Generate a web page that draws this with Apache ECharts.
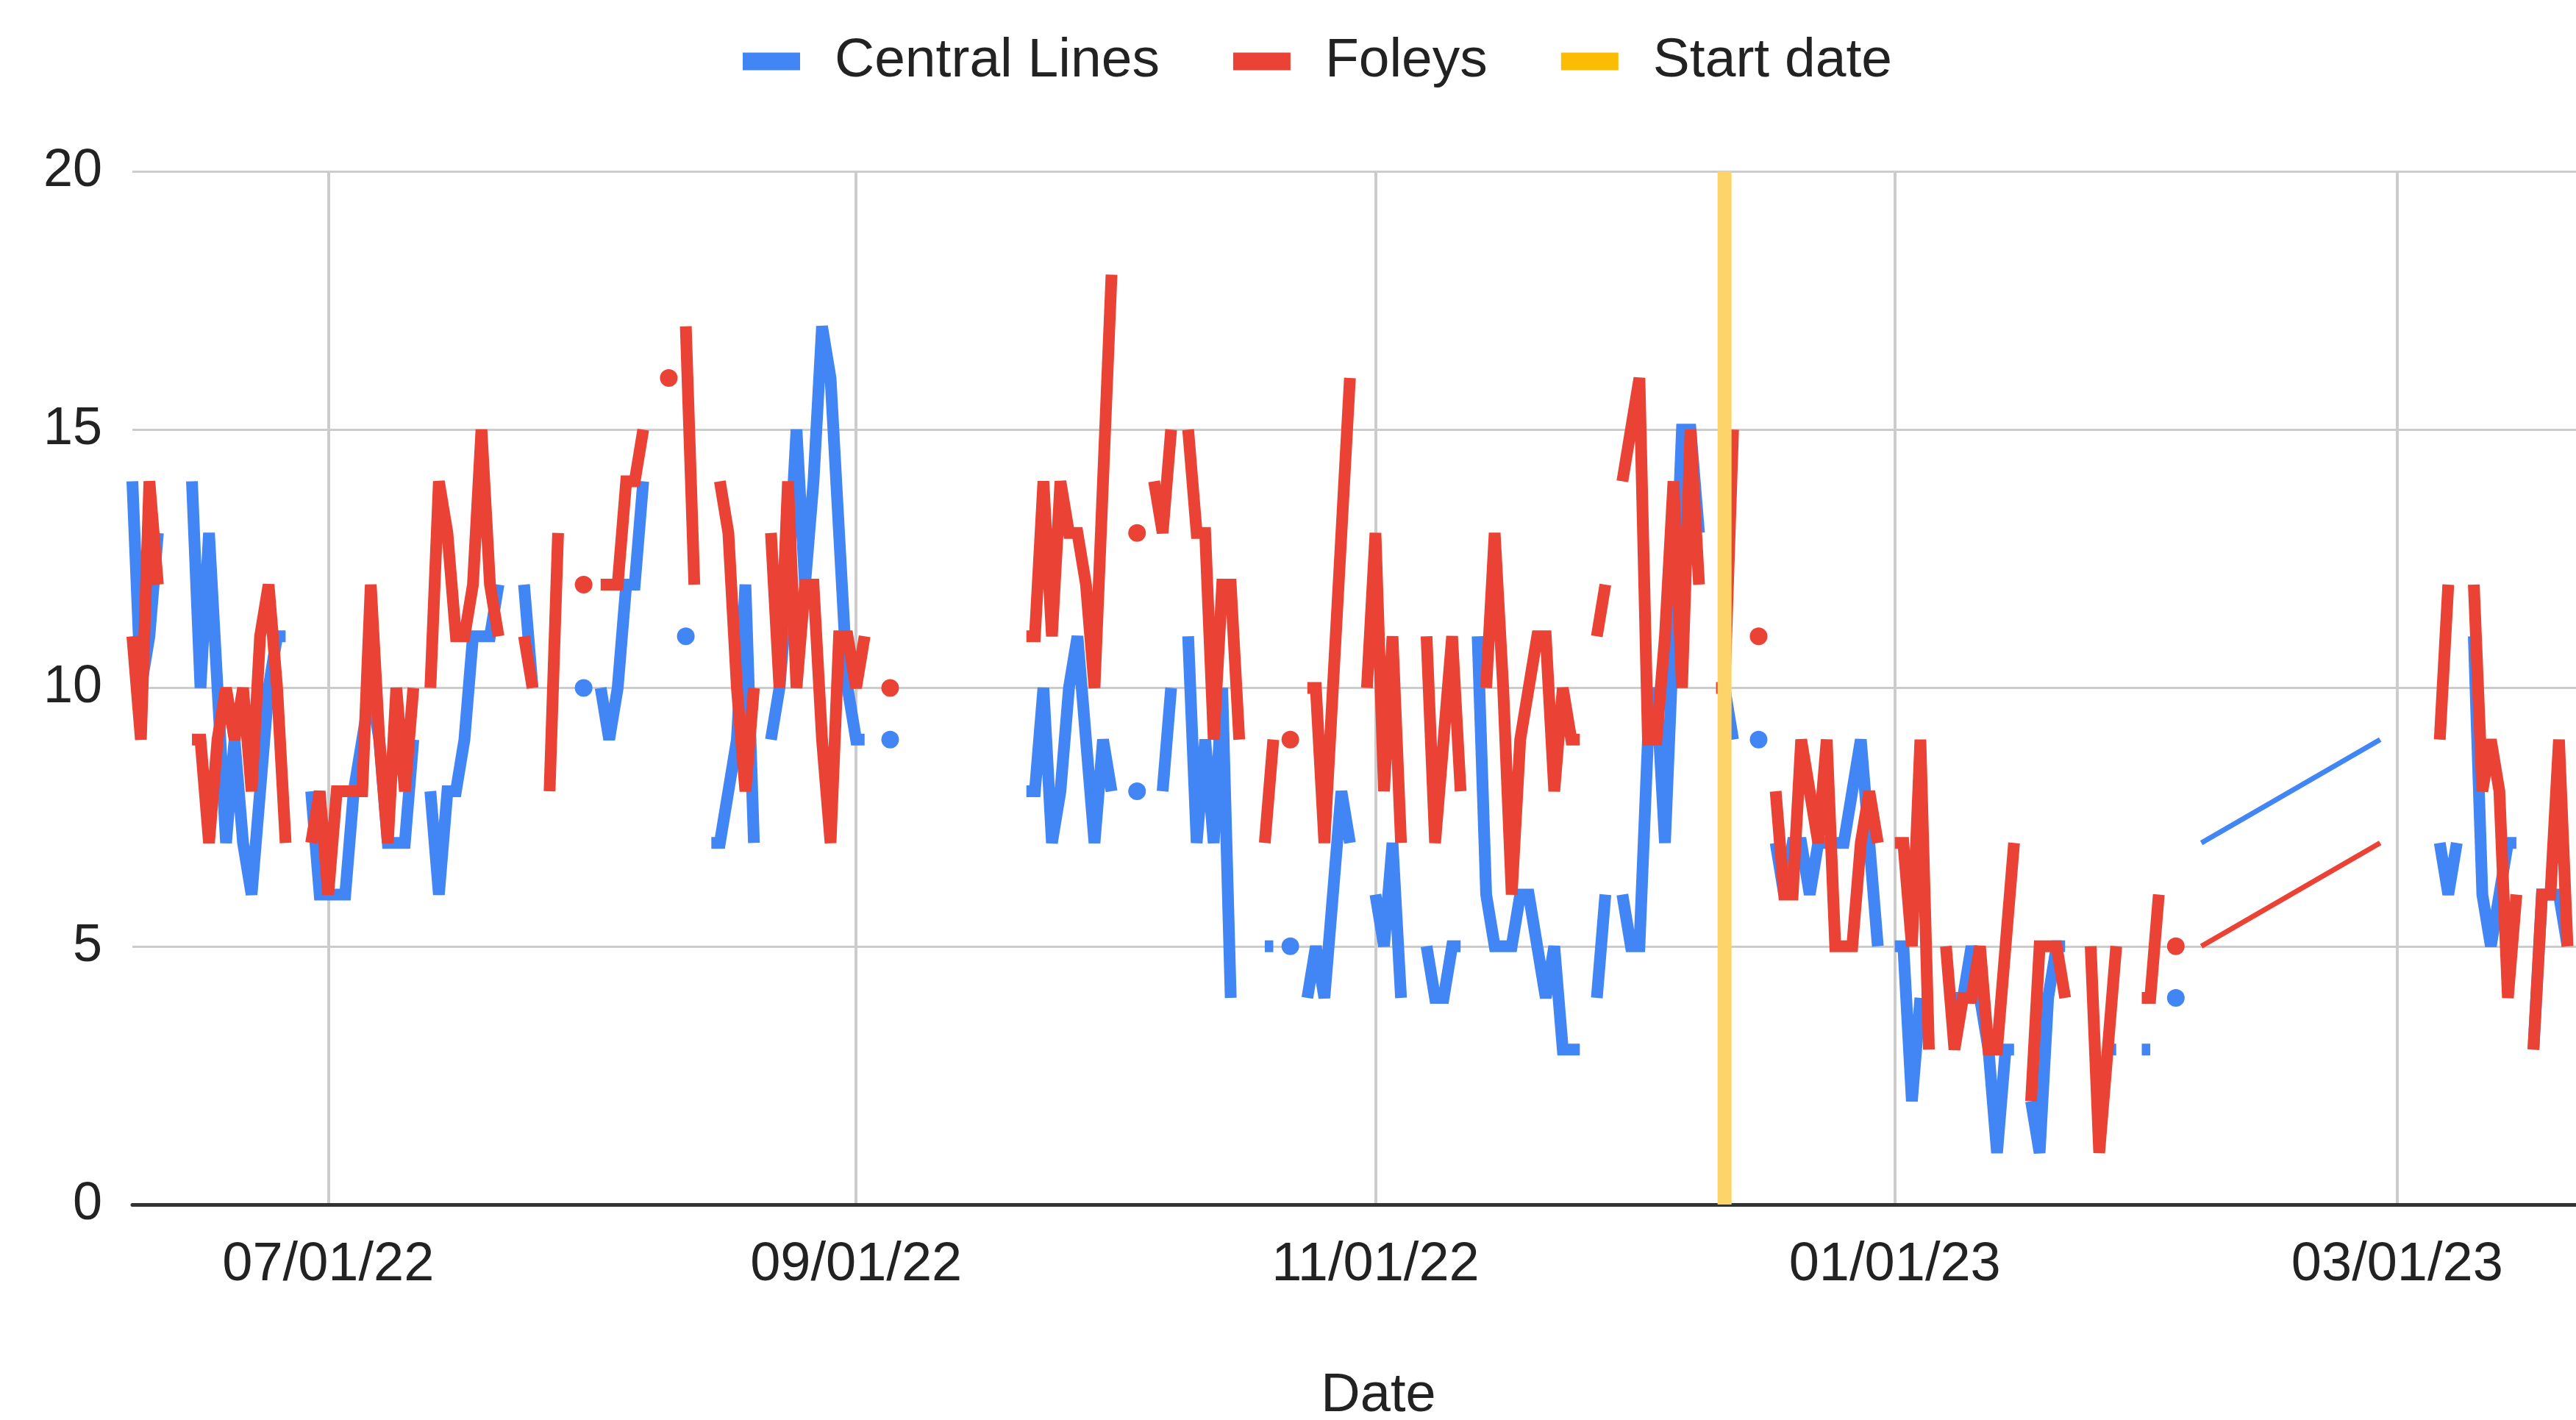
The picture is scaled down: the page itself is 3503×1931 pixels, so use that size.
<!DOCTYPE html>
<html>
<head>
<meta charset="utf-8">
<title>Central Lines and Foleys</title>
<script src="https://cdn.jsdelivr.net/npm/echarts@6/dist/echarts.min.js"></script>
<style>
  html, body { margin: 0; padding: 0; background: #fff; }
  #chart { width: 3503px; height: 1931px; }
</style>
</head>
<body>
<div id="chart"></div>
<script>
// one value per day from periodStart, null = nothing recorded that day
const periodStart = '2022-06-08';
const centralLines = [
  // Jun 8-30
  14, 10, 11, 13, null, null, null, 14, 10, 13, 10, 7, 9, 7, 6, 8, 10, 11, 11, null, null, 8, 6,
  // Jul
  6, 6, 6, 8, 9, 10, 9, 7, 7, 7, 9, null, 8, 6, 8, 8, 9, 11, 11, 11, 12, null, null, 12, 10, null, null, null, null, null, 10,
  // Aug
  null, 10, 9, 10, 12, 12, 14, null, null, null, null, 11, null, null, 7, 7, 8, 9, 12, 7, null, 9, 10, 12, 15, 12, 14, 17, 16, 13, 10,
  // Sep
  9, 9, null, null, 9, null, null, null, null, null, null, null, null, null, null, null, null, null, null, null,
  8, 8, 10, 7, 8, 10, 11, 9, 7, 9,
  // Oct
  8, null, null, 8, null, null, 8, 10, null, 11, 7, 9, 7, 10, 4, null, null, null, 5, 5, null, 5, null, 4, 5, 4, 6, 8, 7, null, null,
  // Nov
  6, 5, 7, 4, null, null, 5, 4, 4, 5, 5, null, 11, 6, 5, 5, 5, 6, 6, 5, 4, 5, 3, 3, 3, null, 4, 6, null, 6,
  // Dec
  5, 5, 9, 10, 7, 11, 15, 15, 13, null, null, 10, 9, null, null, 9, null, 7, 6, 7, 7, 6, 7, 7, 7, 7, 8, 9, 7, 5, null,
  // Jan
  5, 5, 2, 4, null, null, null, 4, 4, 5, 4, 3, 1, 3, 3, null, 2, 1, 4, 5, 5, null, null, null, null, 3, 3, null, null, 3, 3,
  // Feb 1-6
  null, null, 4, null, null, 7
];
const foleys = [
  // Jun 8-30
  11, 9, 14, 12, null, null, null, 9, 9, 7, 9, 10, 9, 10, 8, 11, 12, 10, 7, null, null, 7, 8,
  // Jul
  6, 8, 8, 8, 8, 12, 9, 7, 10, 8, 10, null, 10, 14, 13, 11, 11, 12, 15, 12, 11, null, null, 11, 10, null, 8, 13, null, null, 12,
  // Aug
  null, 12, 12, 12, 14, 14, 15, null, null, 16, null, 17, 12, null, null, 14, 13, 10, 8, 10, null, 13, 10, 14, 10, 12, 12, 9, 7, 11, 11,
  // Sep
  10, 11, null, null, 10, null, null, null, null, null, null, null, null, null, null, null, null, null, null, null,
  11, 11, 14, 11, 14, 13, 13, 12, 10, 14,
  // Oct
  18, null, null, 13, null, 14, 13, 15, null, 15, 13, 13, 9, 12, 12, 9, null, null, 7, 9, null, 9, null, 10, 10, 7, 10, 13, 16, null, 10,
  // Nov
  13, 8, 11, 7, null, null, 11, 7, 9, 11, 8, null, null, 10, 13, 10, 6, 9, 10, 11, 11, 8, 10, 9, 9, null, 11, 12, null, 14,
  // Dec
  15, 16, 9, 9, 11, 14, 10, 15, 12, null, 10, 10, 15, null, null, 11, null, 8, 6, 6, 9, 8, 7, 9, 5, 5, 5, 7, 8, 7, null,
  // Jan
  7, 7, 5, 9, 3, null, 5, 3, 4, 4, 5, 3, 3, 5, 7, null, 2, 5, 5, 5, 4, null, null, 5, 1, 3, 5, null, null, 4, 4,
  // Feb 1-6
  6, null, 5, null, null, 5
];

// no rows between Feb 6 and Feb 27, sheet picks up again here
const resumeDate = '2023-02-27';
const centralLinesResumed = [9, null, null, null, null, null, null, 7, 6, 7, null, 11, 6, 5, 6, 7, 7, null, 3, 6, 6, 6, 5];
const foleysResumed = [7, null, null, null, null, null, null, 9, 12, null, null, 12, 8, 9, 8, 4, 6, null, 3, 6, 6, 9, 5];

const startDate = '2022-12-12';
const startDateValues = [0, 20];

const tickDates = ['2022-07-01', '2022-09-01', '2022-11-01', '2023-01-01', '2023-03-01'];
const axisEnd = '2023-03-22';

const BLUE = '#4285F4';
const RED = '#EA4335';
const YELLOW = '#FBBC04';
const FONT = 'Liberation Sans, Arial, sans-serif';

function dayStamp(iso, offset) {
  const p = iso.split('-').map(Number);
  return new Date(p[0], p[1] - 1, p[2] + (offset || 0)).getTime();
}

function toPoints(start, values) {
  return values.map((v, i) => [dayStamp(start, i), v]);
}

function pad(n) { return n < 10 ? '0' + n : '' + n; }

// builds the thick daily line (dots for lone days) and the thin jump over the missing rows
function buildSeries(name, color, early, late) {
  const pts = toPoints(periodStart, early).concat(toPoints(resumeDate, late));
  const items = pts.map((p, i) => {
    const prev = pts[i - 1], next = pts[i + 1];
    const lonely = p[1] != null && (!prev || prev[1] == null) && (!next || next[1] == null);
    return lonely ? { value: p, symbol: 'circle', symbolSize: 24 } : { value: p, symbol: 'none' };
  });
  const cut = early.length;
  const mid = (pts[cut - 1][0] + pts[cut][0]) / 2;
  const main = items.slice(0, cut).concat([{ value: [mid, null], symbol: 'none' }], items.slice(cut));
  return [
    {
      name: name,
      type: 'line',
      data: main,
      connectNulls: false,
      showSymbol: true,
      showAllSymbol: true,
      symbol: 'circle',
      itemStyle: { color: color },
      lineStyle: { color: color, width: 16, join: 'miter', miterLimit: 2.5 },
      emphasis: { disabled: true }
    },
    {
      name: name,
      type: 'line',
      data: [pts[cut - 1], pts[cut]],
      symbol: 'none',
      itemStyle: { color: color },
      lineStyle: { color: color, width: 7 },
      emphasis: { disabled: true }
    }
  ];
}

const chart = echarts.init(document.getElementById('chart'));

const tickStamps = tickDates.map(d => dayStamp(d));

chart.setOption({
  animation: false,
  backgroundColor: '#ffffff',
  textStyle: { fontFamily: FONT },
  legend: {
    data: ['Central Lines', 'Foleys', 'Start date'],
    left: 1005,
    top: 41,
    icon: 'rect',
    itemWidth: 78,
    itemHeight: 24,
    itemGap: 100,
    textStyle: { fontSize: 75, color: '#222222', fontFamily: FONT, padding: [0, 0, 0, 42] }
  },
  grid: { left: 180, right: 0, top: 233, height: 1405, outerBoundsMode: 'none' },
  xAxis: {
    type: 'value',
    min: dayStamp(periodStart),
    max: dayStamp(axisEnd),
    name: 'Date',
    nameLocation: 'middle',
    nameGap: 224,
    nameTextStyle: { fontSize: 74, color: '#222222', fontFamily: FONT, padding: [0, 0, 0, 66] },
    axisLine: { show: true, onZero: false, lineStyle: { color: '#333333', width: 5 } },
    axisTick: { show: false, customValues: tickStamps },
    axisLabel: {
      customValues: tickStamps,
      fontSize: 74,
      color: '#222222',
      fontFamily: FONT,
      margin: 46,
      formatter: function (v) {
        const d = new Date(v);
        return pad(d.getMonth() + 1) + '/' + pad(d.getDate()) + '/' + pad(d.getFullYear() % 100);
      }
    },
    splitLine: { show: true, lineStyle: { color: '#cccccc', width: 4 } }
  },
  yAxis: {
    type: 'value',
    min: 0,
    max: 20,
    interval: 5,
    axisLine: { show: false },
    axisTick: { show: false },
    axisLabel: { fontSize: 72, color: '#222222', fontFamily: FONT, margin: 41 },
    splitLine: { lineStyle: { color: '#cccccc', width: 3 } }
  },
  series: buildSeries('Central Lines', BLUE, centralLines, centralLinesResumed)
    .concat(buildSeries('Foleys', RED, foleys, foleysResumed))
    .concat([{
      name: 'Start date',
      type: 'line',
      data: startDateValues.map(v => [dayStamp(startDate), v]),
      symbol: 'none',
      itemStyle: { color: YELLOW },
      lineStyle: { color: '#FCD46A', width: 19 },
      emphasis: { disabled: true },
      z: 5
    }])
});
</script>
</body>
</html>
